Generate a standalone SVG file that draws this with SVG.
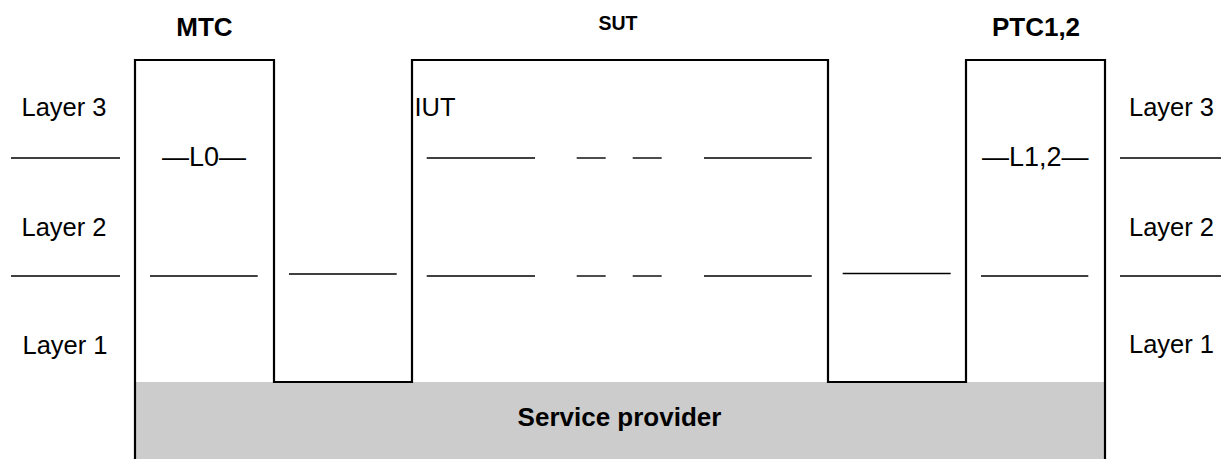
<svg xmlns="http://www.w3.org/2000/svg" width="1221" height="459" viewBox="0 0 1221 459">
<style>
  .lbl { font-family: "Liberation Sans", Arial, sans-serif; font-size: 25.5px; fill: #000; }
  .bold { font-family: "Liberation Sans", Arial, sans-serif; font-weight: bold; fill: #000; }
  .dash { font-family: "Liberation Sans", Arial, sans-serif; font-size: 27px; fill: #000; }
  .rule { stroke: #000; stroke-width: 1.4; fill: none; }
  .outline { stroke: #000; stroke-width: 2.2; fill: none; stroke-linejoin: miter; }
</style>
<rect width="1221" height="459" fill="#fff"/>

<g id="service-provider">
  <rect x="135" y="382" width="970" height="77" fill="#cccccc"/>
  <text class="bold" x="619.5" y="426" font-size="26" text-anchor="middle">Service provider</text>
</g>

<g id="outline">
  <path class="outline" d="M135,459 V60 H274 V382 H412 V60 H828 V382 H966 V60 H1105 V459"/>
</g>

<g id="MTC">
  <text class="bold" x="204.5" y="36" font-size="26" text-anchor="middle">MTC</text>
  <text class="dash" x="162" y="166">—L0—</text>
</g>

<g id="SUT">
  <text class="bold" x="618" y="30" font-size="19.5" text-anchor="middle">SUT</text>
  <text class="lbl" x="414.5" y="116">IUT</text>
</g>

<g id="PTC">
  <text class="bold" x="1036" y="36" font-size="26" text-anchor="middle">PTC1,2</text>
  <text class="dash" x="982" y="166">—L1,2—</text>
</g>

<g id="layer-labels-left">
  <text class="lbl" x="21.5" y="116">Layer 3</text>
  <text class="lbl" x="21.5" y="236">Layer 2</text>
  <text class="lbl" x="22.5" y="354">Layer 1</text>
</g>

<g id="layer-labels-right">
  <text class="lbl" x="1129" y="116">Layer 3</text>
  <text class="lbl" x="1129" y="236">Layer 2</text>
  <text class="lbl" x="1129" y="353">Layer 1</text>
</g>

<g id="layer-lines">
  <!-- layer 3 / layer 2 boundary -->
  <line class="rule" x1="11" y1="158" x2="120" y2="158"/>
  <line class="rule" x1="426.7" y1="158" x2="535" y2="158"/>
  <line class="rule" x1="576.7" y1="158" x2="605.7" y2="158"/>
  <line class="rule" x1="632.7" y1="158" x2="661.7" y2="158"/>
  <line class="rule" x1="704" y1="158" x2="811.7" y2="158"/>
  <line class="rule" x1="1120" y1="158" x2="1221" y2="158"/>
  <!-- layer 2 / layer 1 boundary -->
  <line class="rule" x1="11" y1="276" x2="120" y2="276"/>
  <line class="rule" x1="150" y1="276" x2="257.7" y2="276"/>
  <line class="rule" x1="289" y1="274" x2="396.7" y2="274"/>
  <line class="rule" x1="426.7" y1="276" x2="535" y2="276"/>
  <line class="rule" x1="576.7" y1="276" x2="605.7" y2="276"/>
  <line class="rule" x1="632.7" y1="276" x2="661.7" y2="276"/>
  <line class="rule" x1="704" y1="276" x2="811.7" y2="276"/>
  <line class="rule" x1="842.7" y1="273.5" x2="950.7" y2="273.5"/>
  <line class="rule" x1="981" y1="276" x2="1088.3" y2="276"/>
  <line class="rule" x1="1120" y1="276" x2="1221" y2="276"/>
</g>
</svg>
